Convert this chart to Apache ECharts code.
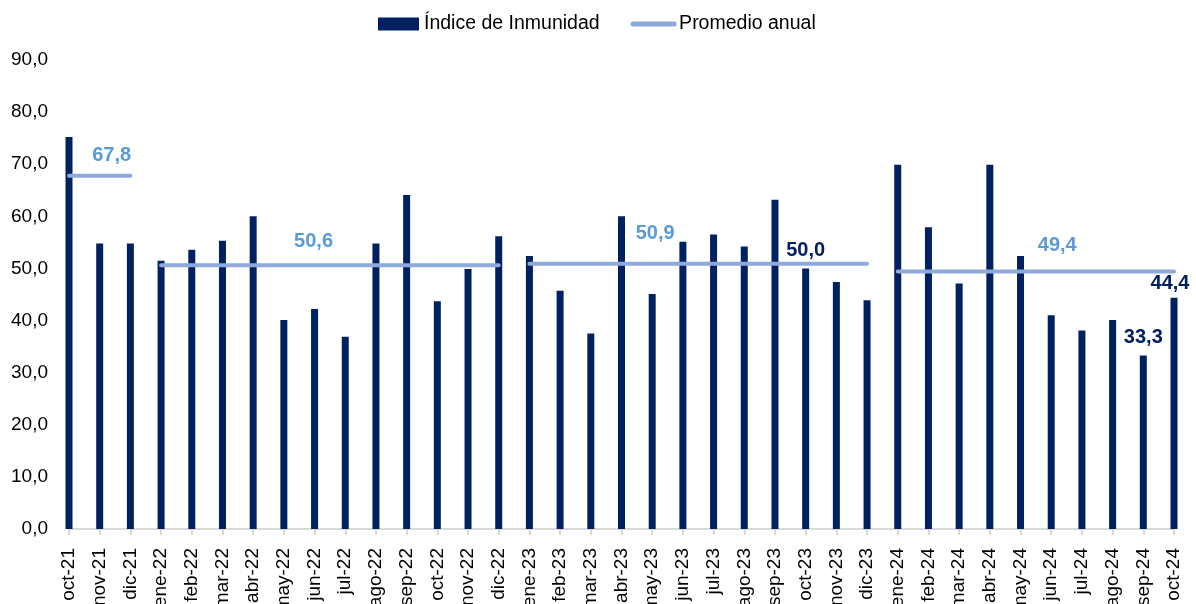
<!DOCTYPE html>
<html lang="es" style="height: 100%">
<head>
    <meta charset="UTF-8">
    <title>Índice de Inmunidad</title>
    <script src="https://cdn.jsdelivr.net/npm/echarts@6/dist/echarts.min.js"></script>
</head>
<body style="height: 100%; margin: 0">
<div id="main" style="width: 1196px; height: 604px"></div>
<script>
    // meses (oct-21 .. oct-24)
    var meses = ['oct-21','nov-21','dic-21',
        'ene-22','feb-22','mar-22','abr-22','may-22','jun-22','jul-22','ago-22','sep-22','oct-22','nov-22','dic-22',
        'ene-23','feb-23','mar-23','abr-23','may-23','jun-23','jul-23','ago-23','sep-23','oct-23','nov-23','dic-23',
        'ene-24','feb-24','mar-24','abr-24','may-24','jun-24','jul-24','ago-24','sep-24','oct-24'];

    var indice = [75.2, 54.8, 54.8,
        51.5, 53.6, 55.3, 60.0, 40.1, 42.2, 36.9, 54.8, 64.1, 43.7, 49.9, 56.2,
        52.4, 45.7, 37.5, 60.0, 45.1, 55.1, 56.5, 54.2, 63.2, 50.0, 47.4, 43.9,
        69.9, 57.9, 47.1, 69.9, 52.4, 41.0, 38.1, 40.1, 33.3, 44.4];

    // promedio anual y tramo de meses que cubre (indice inicial, final)
    var promedio = [67.8, 50.6, 50.9, 49.4];
    var tramoIni = [0, 3, 15, 27];
    var tramoFin = [2, 14, 26, 36];

    var yTicks = [0, 10, 20, 30, 40, 50, 60, 70, 80, 90];

    function coma(v) {
        return Number(v).toFixed(1).replace('.', ',');
    }

    var fuente = "'Liberation Sans', Arial, sans-serif";

    // etiquetas de las barras (solo algunas)
    var etiquetasBarra = {24: [0, 0], 35: [0, 0], 36: [-4, 4]};
    var barData = indice.map(function (v, i) {
        if (etiquetasBarra[i]) {
            return {value: v, label: {show: true, offset: etiquetasBarra[i]}};
        }
        return v;
    });

    // donde va la etiqueta de cada promedio
    var etqIdx = [1, 8, 19, 32];
    var etqOff = [[12, 0], [-1, 0], [3, 0], [6, 0]];
    var etqDist = [10, 14, 20, 16];

    var lineas = promedio.map(function (p, k) {
        var data = meses.map(function (m, i) {
            return (i < tramoIni[k] || i > tramoFin[k]) ? null : p;
        });
        return {
            name: 'Promedio anual',
            type: 'line',
            data: data,
            symbol: 'none',
            z: 5,
            lineStyle: {color: '#8EA9DB', width: 4, cap: 'round'},
            itemStyle: {color: '#8EA9DB'},
            markPoint: {
                symbol: 'circle',
                symbolSize: 0,
                silent: true,
                data: [{coord: [etqIdx[k], p], value: p}],
                label: {
                    show: true,
                    position: 'top',
                    distance: etqDist[k],
                    offset: etqOff[k],
                    color: '#5B9BD5',
                    fontWeight: 'bold',
                    fontSize: 20,
                    fontFamily: fuente,
                    formatter: function (d) { return coma(d.value); }
                }
            }
        };
    });

    var option = {
        animation: false,
        backgroundColor: '#ffffff',
        legend: {
            top: 9,
            left: 373,
            itemWidth: 41,
            itemHeight: 13,
            itemGap: 31,
            textStyle: {fontSize: 19.5, color: '#000', fontFamily: fuente},
            data: [
                {name: 'Índice de Inmunidad', icon: 'rect'},
                {
                    name: 'Promedio anual',
                    itemStyle: {color: 'rgba(0,0,0,0)', borderWidth: 0},
                    lineStyle: {color: '#8EA9DB', width: 5, cap: 'round'}
                }
            ]
        },
        grid: {left: 69, right: 22, top: 60, bottom: 75, containLabel: false, outerBoundsMode: 'none'},
        xAxis: {
            type: 'category',
            data: meses,
            boundaryGap: false,
            axisLine: {lineStyle: {color: '#D9D9D9', width: 2}},
            axisTick: {show: true, length: 6, lineStyle: {color: '#D9D9D9', width: 2}},
            axisLabel: {
                rotate: 90,
                interval: 0,
                margin: 19,
                fontSize: 19,
                color: '#000',
                fontFamily: fuente
            }
        },
        yAxis: {
            type: 'value',
            min: yTicks[0],
            max: yTicks[yTicks.length - 1],
            interval: yTicks[1] - yTicks[0],
            axisLine: {show: false},
            axisTick: {show: false},
            splitLine: {show: false},
            axisLabel: {
                margin: 21,
                fontSize: 19,
                color: '#000',
                fontFamily: fuente,
                padding: [6, 0, 0, 0],
                formatter: coma
            }
        },
        series: [{
            name: 'Índice de Inmunidad',
            type: 'bar',
            data: barData,
            barWidth: 7,
            clip: false,
            itemStyle: {color: '#002060'},
            label: {
                show: false,
                position: 'top',
                distance: 8,
                color: '#002060',
                fontWeight: 'bold',
                fontSize: 20,
                fontFamily: fuente,
                formatter: function (d) { return coma(d.value); }
            }
        }].concat(lineas)
    };

    var myChart = echarts.init(document.getElementById('main'));
    myChart.setOption(option);
</script>
</body>
</html>
